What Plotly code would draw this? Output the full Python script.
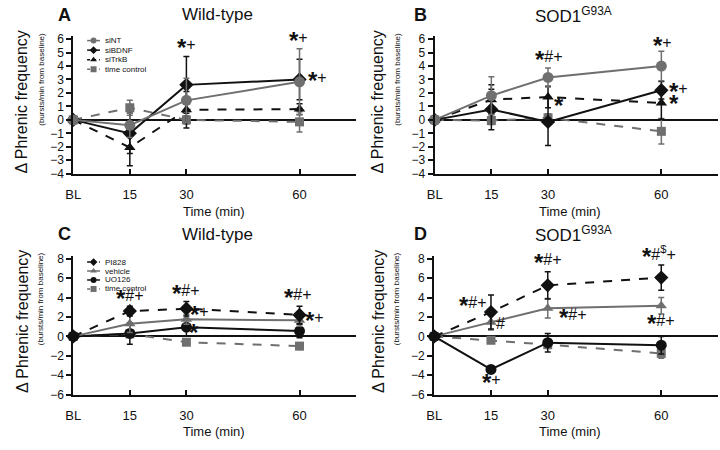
import plotly.graph_objects as go

W, H = 720, 450
FONT = "Liberation Sans, Arial, sans-serif"
GRAY = "#6f6f6f"
BLACK = "#111111"


def px(xp):
    return xp / W


def py(yp):
    return 1 - yp / H


TIME = [0, 15, 30, 60]
TICK_TEXT = ["BL", "15", "30", "60"]

# ---- Panel A (Wild-type, siRNA) ----
A_siNT = [0, -0.4, 1.45, 2.83]
A_siNT_err = [0, 0.9, 1.65, 2.45]
A_siBDNF = [0, -1.0, 2.6, 3.0]
A_siBDNF_err = [0, 1.5, 2.1, 1.5]
A_siTrkB = [0, -2.05, 0.75, 0.8]
A_siTrkB_err = [0, 1.35, 1.35, 0.4]
A_tc = [0, 0.9, 0.0, -0.15]
A_tc_err = [0, 0.55, 0.3, 0.75]

# ---- Panel B (SOD1 G93A, siRNA) ----
B_siNT = [0, 1.8, 3.15, 4.0]
B_siNT_err = [0, 1.4, 0.7, 1.1]
B_siBDNF = [0, 0.77, -0.15, 2.2]
B_siBDNF_err = [0, 1.5, 1.75, 0.65]
B_siTrkB = [0, 1.5, 1.7, 1.25]
B_siTrkB_err = [0, 1.1, 0.8, 1.2]
B_tc = [0, -0.05, 0.15, -0.85]
B_tc_err = [0, 0.3, 0.3, 0.95]

# ---- Panel C (Wild-type, inhibitors) ----
C_PI828 = [0, 2.6, 2.85, 2.2]
C_PI828_err = [0, 0.5, 0.75, 0.9]
C_vehicle = [0, 1.3, 1.75, 1.65]
C_vehicle_err = [0, 0.9, 0.5, 0.6]
C_UO126 = [0, 0.3, 0.95, 0.55]
C_UO126_err = [0, 1.1, 0.9, 0.7]
C_tc = [0, 0.25, -0.6, -1.0]
C_tc_err = [0, 0.3, 0.3, 0.35]

# ---- Panel D (SOD1 G93A, inhibitors) ----
D_PI828 = [0, 2.5, 5.25, 6.05]
D_PI828_err = [0, 1.75, 1.4, 1.3]
D_vehicle = [0, 1.45, 2.9, 3.15]
D_vehicle_err = [0, 0.8, 1.0, 0.85]
D_UO126 = [0, -3.4, -0.65, -0.9]
D_UO126_err = [0, 0.35, 0.95, 0.9]
D_tc = [0, -0.4, -0.85, -1.75]
D_tc_err = [0, 0.2, 0.4, 0.5]

# significance labels: (panel, time, value, text)
SIG = [
    ("A", 30, 5.35, "*+"), ("A", 59.6, 5.9, "*+"), ("A", 64.8, 2.9, "*+"),
    ("B", 30.2, 4.5, "*#+"), ("B", 60.3, 5.5, "*+"), ("B", 64.6, 2.1, "*+"),
    ("B", 63.3, 1.2, "*"), ("B", 32.8, 1.1, "*"),
    ("C", 15, 3.85, "*#+"), ("C", 29.9, 4.4, "*#+"), ("C", 59.6, 4.0, "*#+"),
    ("C", 64.0, 1.65, "*+"), ("C", 33.4, 2.3, "*+"), ("C", 32.1, 0.4, "*"),
    ("D", 10.2, 3.2, "*#+"), ("D", 30.2, 7.6, "*#+"), ("D", 59.4, 8.2, "*#$+"),
    ("D", 36.8, 1.9, "*#+"), ("D", 59.8, 1.35, "*#+"), ("D", 17.6, 1.35, "#"),
    ("D", 15.2, -4.7, "*+"),
]

STYLE = {
    "siNT": dict(color=GRAY, symbol="circle", dash="solid", size=11),
    "siBDNF": dict(color=BLACK, symbol="diamond", dash="solid", size=11),
    "siTrkB": dict(color=BLACK, symbol="triangle-up", dash="dash", size=10),
    "time control": dict(color=GRAY, symbol="square", dash="dash", size=9),
    "PI828": dict(color=BLACK, symbol="diamond", dash="dash", size=11),
    "vehicle": dict(color=GRAY, symbol="triangle-up", dash="solid", size=10),
    "UO126": dict(color=BLACK, symbol="circle", dash="solid", size=11),
}

PANELS = {
    "A": dict(ax="", title="Wild-type", series=[
        ("siNT", A_siNT, A_siNT_err), ("siBDNF", A_siBDNF, A_siBDNF_err),
        ("siTrkB", A_siTrkB, A_siTrkB_err), ("time control", A_tc, A_tc_err)]),
    "B": dict(ax="2", title="SOD1<sup>G93A</sup>", series=[
        ("siNT", B_siNT, B_siNT_err), ("siBDNF", B_siBDNF, B_siBDNF_err),
        ("siTrkB", B_siTrkB, B_siTrkB_err), ("time control", B_tc, B_tc_err)]),
    "C": dict(ax="3", title="Wild-type", series=[
        ("PI828", C_PI828, C_PI828_err), ("vehicle", C_vehicle, C_vehicle_err),
        ("UO126", C_UO126, C_UO126_err), ("time control", C_tc, C_tc_err)]),
    "D": dict(ax="4", title="SOD1<sup>G93A</sup>", series=[
        ("PI828", D_PI828, D_PI828_err), ("vehicle", D_vehicle, D_vehicle_err),
        ("UO126", D_UO126, D_UO126_err), ("time control", D_tc, D_tc_err)]),
}

# layout geometry (pixels)
GEOM = {
    "A": dict(x0=66, x1=352, ytop=33.2, ybot=174, yr=[-4, 6.2], dt=1, left=0, top=0),
    "B": dict(x0=431.5, x1=718, ytop=33.2, ybot=174, yr=[-4, 6.2], dt=1, left=360, top=0),
    "C": dict(x0=66, x1=352, ytop=258.5, ybot=400.5, yr=[-6, 8.25], dt=2, left=0, top=225),
    "D": dict(x0=431, x1=718, ytop=258.5, ybot=400.5, yr=[-6, 8.25], dt=2, left=360, top=225),
}

fig = go.Figure()
layout = dict(width=W, height=H, margin=dict(l=0, r=0, t=0, b=0), autosize=False,
              paper_bgcolor="white", plot_bgcolor="rgba(0,0,0,0)", showlegend=False,
              font=dict(family=FONT, color=BLACK))
annotations = []


def ann(x, y, text, size, **kw):
    d = dict(xref="paper", yref="paper", x=px(x), y=py(y), text=text, showarrow=False,
             xanchor="center", yanchor="middle", font=dict(size=size, family=FONT, color=BLACK))
    d.update(kw)
    annotations.append(d)


for key, p in PANELS.items():
    g = GEOM[key]
    ax = p["ax"]
    xa, ya = "x" + ax, "y" + ax
    for name, vals, err in reversed(p["series"]):
        s = STYLE[name]
        fig.add_trace(go.Scatter(
            x=TIME, y=vals, xaxis=xa, yaxis=ya, mode="lines+markers", name=name,
            line=dict(color=s["color"], width=2, dash=s["dash"]),
            marker=dict(color=s["color"], symbol=s["symbol"], size=s["size"]),
            error_y=dict(type="data", array=err, color=s["color"], thickness=1.5, width=3),
            cliponaxis=False,
        ))
    layout["xaxis" + ax] = dict(
        domain=[px(g["x0"]), min(1, px(g["x1"]))], range=[0, 75], anchor=ya,
        showline=True, linewidth=2, linecolor=BLACK, showgrid=False, zeroline=False,
        ticks="inside", ticklen=5, tickwidth=2, tickcolor=BLACK,
        tickvals=TIME, ticktext=TICK_TEXT, tickfont=dict(size=13, family=FONT, color=BLACK),
        ticklabelstandoff=8,
    )
    layout["yaxis" + ax] = dict(
        domain=[py(g["ybot"]), py(g["ytop"])], range=g["yr"], anchor=xa,
        showline=True, linewidth=2, linecolor=BLACK, showgrid=False,
        zeroline=True, zerolinecolor=BLACK, zerolinewidth=1.5,
        ticks="outside", ticklen=5, tickwidth=1.5, tickcolor=BLACK,
        tickvals=list(range(int(g["yr"][0]), int(g["yr"][1]) + 1, g["dt"])),
        tickfont=dict(size=12, family=FONT, color=BLACK),
    )
    L, T = g["left"], g["top"]
    ann(L + 57, T + 11, "<b>%s</b>" % key, 18)
    ann(L + 212, T + 11, p["title"], 17)
    ann(L + 208, T + 213, "Time (min)", 13)
    ann(L + 14, T + 100, "\u0394 Phrenic frequency", 16, textangle=-90)
    ann(L + 33, T + 77, "(bursts/min from baseline)", 8, textangle=-90)

STAR = "<sub><sub><span style='font-size:24px'><b>*</b></span></sub></sub>"
for key, t, v, txt in SIG:
    ax = PANELS[key]["ax"]
    html = txt.replace("*", STAR).replace("$", "<sup>$</sup>")
    annotations.append(dict(xref="x" + ax, yref="y" + ax, x=t, y=v, text=html, showarrow=False,
                            xanchor="center", yanchor="middle",
                            font=dict(size=16, family=FONT, color=BLACK)))

# manual legends on a pixel overlay axis
layout["xaxis5"] = dict(domain=[0, 1], range=[0, W], anchor="y5", visible=False, fixedrange=True)
layout["yaxis5"] = dict(domain=[0, 1], range=[H, 0], anchor="x5", visible=False, fixedrange=True)
LEG = {"A": (37.5, 9.8), "C": (264.5, 9.2)}
LX0, LX1, LTX = 80, 93, 96
for key, (y0, dy) in LEG.items():
    for i, (name, _, _) in enumerate(PANELS[key]["series"]):
        s = STYLE[name]
        yy = y0 + i * dy
        fig.add_trace(go.Scatter(x=[LX0, LX1], y=[yy, yy], xaxis="x5", yaxis="y5", mode="lines",
                                 line=dict(color=s["color"], width=1.5, dash="dot" if s["dash"] == "dash" else "solid"),
                                 hoverinfo="skip"))
        fig.add_trace(go.Scatter(x=[(LX0 + LX1) / 2], y=[yy], xaxis="x5", yaxis="y5", mode="markers",
                                 marker=dict(color=s["color"], symbol=s["symbol"], size=6),
                                 hoverinfo="skip"))
        annotations.append(dict(xref="x5", yref="y5", x=LTX, y=yy, xanchor="left", yanchor="middle",
                                text=name, showarrow=False, font=dict(size=8, family=FONT, color=BLACK)))

layout["annotations"] = annotations
fig.update_layout(**layout)
# remove the browser's default body margin so the 720x450 figure fills the window exactly
fig.write_html("out.html", config={"displayModeBar": False},
               post_script="document.body.style.margin='0px';document.body.style.padding='0px';")
